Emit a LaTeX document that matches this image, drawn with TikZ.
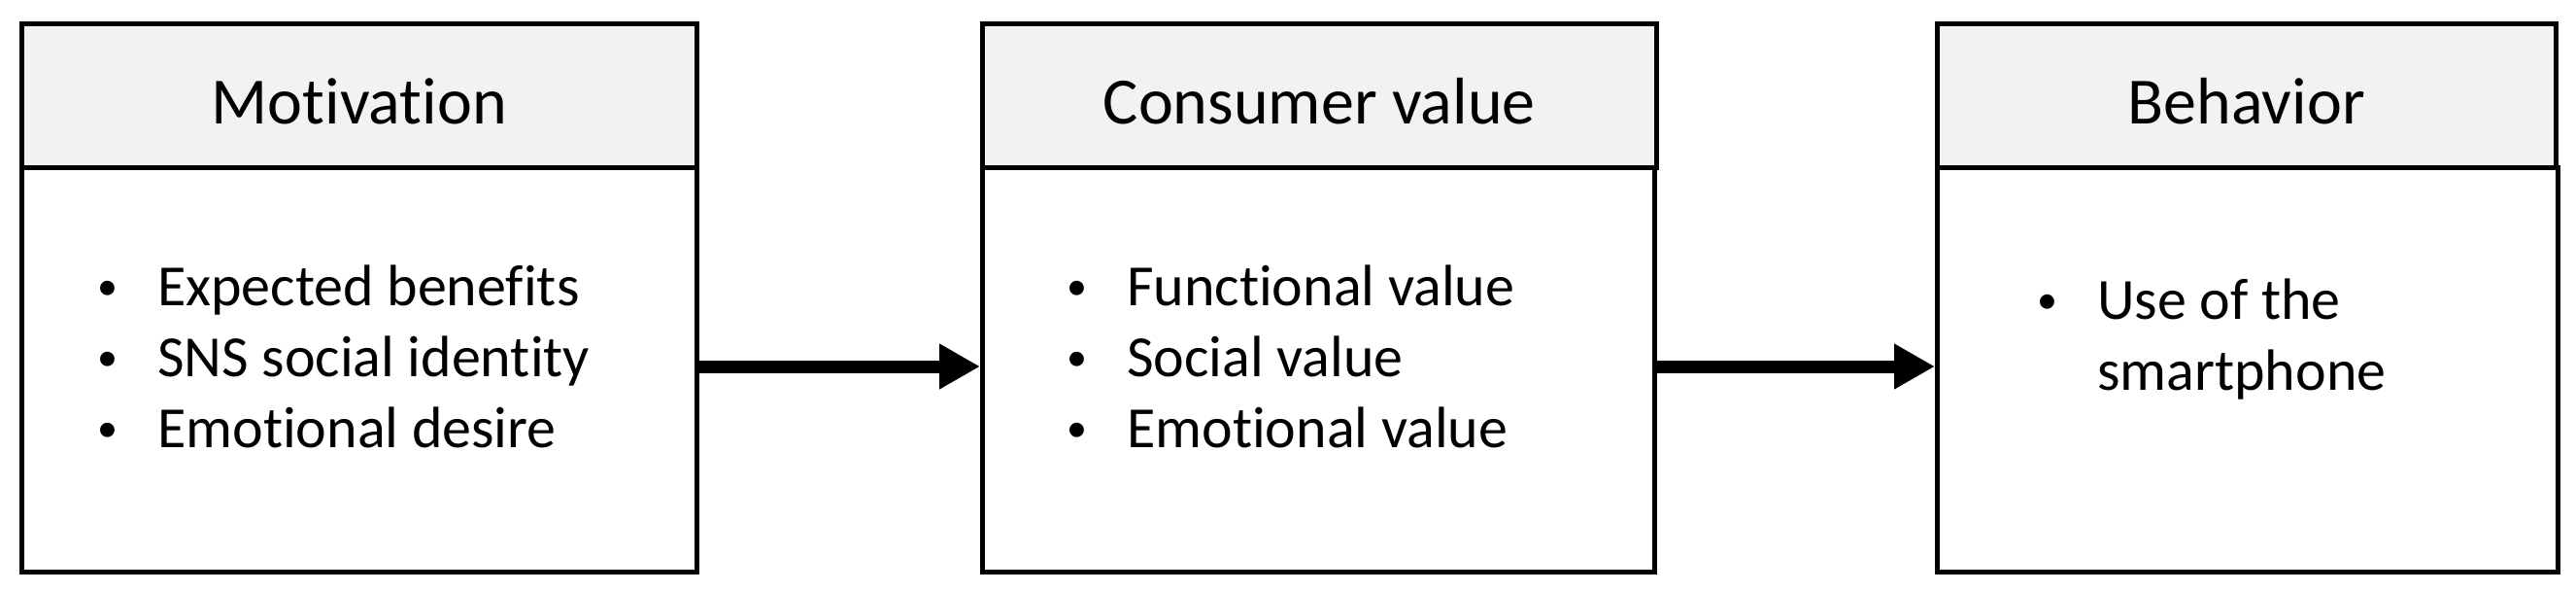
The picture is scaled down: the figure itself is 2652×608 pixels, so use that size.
\documentclass[tikz,border=0pt]{standalone}
\usepackage{fontspec}
\setmainfont{Carlito}[Ligatures=NoCommon]
\usetikzlibrary{arrows.meta}
\definecolor{hdrgray}{HTML}{F2F2F2}
\tikzset{
  hdr/.style={draw=black, fill=hdrgray, line width=4.5pt, anchor=north west, minimum height=148pt,
    inner sep=0pt, font=\fontsize{68}{80}\selectfont, text height=58pt, text depth=0pt},
  bodybox/.style={draw=black, fill=white, line width=4.5pt, anchor=north west, minimum height=416pt, inner sep=0pt},
  items/.style={anchor=base west, inner sep=0pt, align=left, font=\fontsize{60}{73}\selectfont},
  flow/.style={line width=13pt, -{Triangle[length=42pt,width=44pt]}},
}
\newcommand{\bul}{\makebox[63pt][l]{\hspace*{1pt}\raisebox{6pt}{\fontsize{42}{42}\selectfont •}}}
\begin{document}
\begin{tikzpicture}[x=1pt,y=-1pt]
\useasboundingbox (0,0) rectangle (2652,608);
% boxes
\node[bodybox, minimum width=695pt] (b1) at (20,170) {};
\node[hdr, minimum width=695pt] (h1) at (20,22) {Motivation};
\node[bodybox, minimum width=692pt] (b2) at (1009,170) {};
\node[hdr, minimum width=694pt] (h2) at (1009,22) {Consumer value};
\node[bodybox, minimum width=639pt] (b3) at (1992,170) {};
\node[hdr, minimum width=637pt] (h3) at (1992,22) {Behavior};
% items (anchor = baseline of last line)
\node[items] (t1) at (99,460) {\bul Expected benefits\\ \bul SNS social identity\\ \bul Emotional desire};
\node[items] (t2) at (1097,460) {\bul Functional value\\ \bul Social value\\ \bul Emotional value};
\node[items] (t3) at (2096,401) {\bul Use of the\\ \makebox[63pt][l]{}smartphone};
% arrows
\coordinate (a1) at (b1.east |- 0,377);
\coordinate (a2) at (b2.west |- 0,377);
\coordinate (a3) at (b2.east |- 0,377);
\coordinate (a4) at (b3.west |- 0,377);
\draw[flow] (a1) -- (a2);
\draw[flow] (a3) -- (a4);
\end{tikzpicture}
\end{document}
